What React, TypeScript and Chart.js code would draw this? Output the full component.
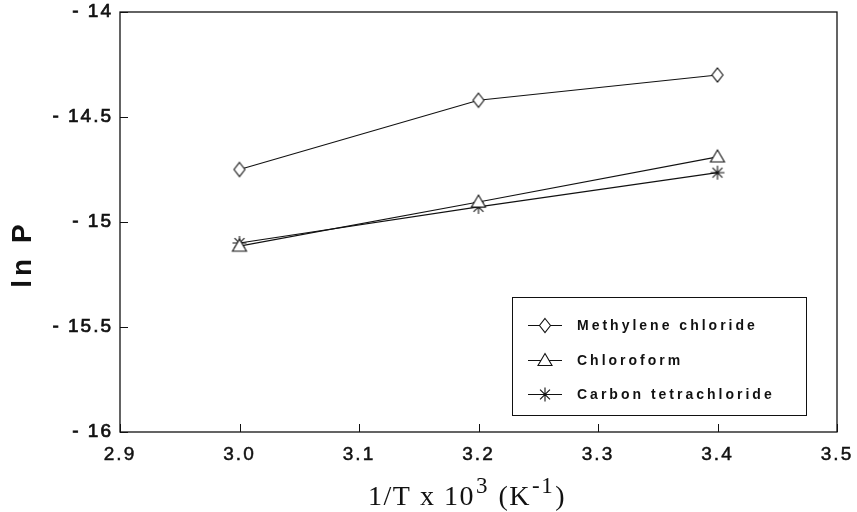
import React, { useEffect, useRef } from "react";
import { Chart, registerables } from "chart.js";

Chart.register(...registerables);

// Vapour pressure vs reciprocal temperature
const invTemp = [3.0, 3.2, 3.4];
const methyleneChloride = [-14.75, -14.42, -14.3];
const chloroform = [-15.115, -14.905, -14.69];
const carbonTetrachloride = [-15.1, -14.928, -14.765];

const seriesNames = ["Methylene chloride", "Chloroform", "Carbon tetrachloride"];
const seriesMarkers = ["diamond", "triangle", "asterisk"];

const xTicks = [2.9, 3.0, 3.1, 3.2, 3.3, 3.4, 3.5];
const yTicks = [-16, -15.5, -15, -14.5, -14];

const INK = "#111111";
const SANS = "'Liberation Sans', Arial, sans-serif";
const SERIF = "'Liberation Serif', 'Times New Roman', serif";

function drawMarker(ctx: CanvasRenderingContext2D, style: string, x: number, y: number) {
  ctx.save();
  ctx.strokeStyle = INK;
  ctx.fillStyle = "#ffffff";
  ctx.lineWidth = 1.1;
  ctx.beginPath();
  if (style === "diamond") {
    ctx.moveTo(x, y - 7);
    ctx.lineTo(x + 5.5, y);
    ctx.lineTo(x, y + 7);
    ctx.lineTo(x - 5.5, y);
    ctx.closePath();
    ctx.fill();
    ctx.stroke();
  } else if (style === "triangle") {
    ctx.moveTo(x, y - 7);
    ctx.lineTo(x + 7, y + 5);
    ctx.lineTo(x - 7, y + 5);
    ctx.closePath();
    ctx.fill();
    ctx.stroke();
  } else {
    const r = 7;
    for (let k = 0; k < 4; k++) {
      const ang = (k * Math.PI) / 4;
      ctx.moveTo(x - r * Math.sin(ang), y - r * Math.cos(ang));
      ctx.lineTo(x + r * Math.sin(ang), y + r * Math.cos(ang));
    }
    ctx.stroke();
  }
  ctx.restore();
}

function markerImage(style: string): HTMLCanvasElement {
  const c = document.createElement("canvas");
  c.width = 20;
  c.height = 20;
  const g = c.getContext("2d")!;
  drawMarker(g, style, 10, 10);
  return c;
}

const framePlugin = {
  id: "frame",
  beforeDraw(chart: any) {
    // spaced-out lettering for the tick labels
    (chart.ctx as any).letterSpacing = "2px";
  },
  beforeDatasetsDraw(chart: any) {
    (chart.ctx as any).letterSpacing = "0px";
  },
  afterDraw(chart: any) {
    const { ctx, chartArea: a, scales } = chart;
    ctx.save();
    ctx.strokeStyle = INK;
    ctx.lineWidth = 1.3;
    ctx.strokeRect(a.left, a.top, a.right - a.left, a.bottom - a.top);

    // inward tick marks
    ctx.lineWidth = 1;
    ctx.beginPath();
    xTicks.forEach((v) => {
      const px = Math.round(scales.x.getPixelForValue(v)) + 0.5;
      ctx.moveTo(px, a.bottom);
      ctx.lineTo(px, a.bottom - 8);
    });
    yTicks.forEach((v) => {
      const py = Math.round(scales.y.getPixelForValue(v)) + 0.5;
      ctx.moveTo(a.left, py);
      ctx.lineTo(a.left + 8, py);
    });
    ctx.stroke();

    // legend box
    const lx = 512, ly = 297, lw = 294, lh = 118;
    ctx.strokeRect(lx + 0.5, ly + 0.5, lw, lh);
    const rows = [325, 360, 394];
    ctx.font = `bold 14px ${SANS}`;
    (ctx as any).letterSpacing = "3px";
    ctx.textBaseline = "middle";
    ctx.textAlign = "left";
    rows.forEach((ry, i) => {
      ctx.strokeStyle = INK;
      ctx.lineWidth = 1;
      ctx.beginPath();
      ctx.moveTo(528, ry + 0.5);
      ctx.lineTo(562, ry + 0.5);
      ctx.stroke();
      drawMarker(ctx, seriesMarkers[i], 545, ry + 0.5);
      ctx.fillStyle = INK;
      ctx.fillText(seriesNames[i], 577, ry + 1);
    });

    // y title
    ctx.save();
    ctx.translate(23, 256);
    ctx.rotate(-Math.PI / 2);
    ctx.font = `bold 28px ${SANS}`;
    (ctx as any).letterSpacing = "4px";
    ctx.textAlign = "center";
    ctx.textBaseline = "middle";
    ctx.fillStyle = INK;
    ctx.fillText("ln P", 2, 0);
    ctx.restore();

    // x title with superscripts
    const parts: [string, boolean][] = [
      ["1/T x 10", false],
      ["3", true],
      [" (K", false],
      ["-1", true],
      [")", false],
    ];
    const mainFont = `28px ${SERIF}`;
    const supFont = `23px ${SERIF}`;
    (ctx as any).letterSpacing = "1.5px";
    ctx.textAlign = "left";
    ctx.textBaseline = "alphabetic";
    ctx.fillStyle = INK;
    let total = 0;
    parts.forEach(([t, sup]) => {
      ctx.font = sup ? supFont : mainFont;
      total += ctx.measureText(t).width + (sup ? 2 : 0);
    });
    let cx = 467 - total / 2;
    const base = 505;
    parts.forEach(([t, sup]) => {
      ctx.font = sup ? supFont : mainFont;
      ctx.fillText(t, cx + (sup ? 1 : 0), sup ? base - 12 : base);
      cx += ctx.measureText(t).width + (sup ? 2 : 0);
    });
    (ctx as any).letterSpacing = "0px";
    ctx.restore();
  },
};

export default function App() {
  const ref = useRef<HTMLCanvasElement | null>(null);

  useEffect(() => {
    if (!ref.current) return;
    const mk = (vals: number[]) => invTemp.map((x, i) => ({ x, y: vals[i] }));
    const series = [methyleneChloride, chloroform, carbonTetrachloride];
    const chart = new Chart(ref.current, {
      type: "line",
      data: {
        datasets: series.map((vals, i) => ({
          label: seriesNames[i],
          data: mk(vals),
          borderColor: INK,
          borderWidth: 1.1,
          pointStyle: markerImage(seriesMarkers[i]) as any,
          pointRadius: 7,
          tension: 0,
          fill: false,
        })),
      },
      options: {
        responsive: false,
        animation: false,
        layout: { padding: { top: 12, right: 20, left: 0, bottom: 0 } },
        plugins: { legend: { display: false }, tooltip: { enabled: false } },
        scales: {
          x: {
            type: "linear",
            min: 2.9,
            max: 3.5,
            grid: { display: false, drawTicks: false },
            border: { display: false },
            afterFit: (s: any) => {
              s.height = 80;
              s.paddingLeft = 0;
              s.paddingRight = 0;
            },
            afterBuildTicks: (s: any) => {
              s.ticks = xTicks.map((v) => ({ value: v }));
            },
            ticks: {
              padding: 11,
              color: INK,
              textStrokeColor: INK,
              textStrokeWidth: 0.5,
              font: { family: SANS, size: 19 },
              callback: (v: any) => Number(v).toFixed(1),
            },
          },
          y: {
            type: "linear",
            min: -16,
            max: -14,
            grid: { display: false, drawTicks: false },
            border: { display: false },
            afterFit: (s: any) => {
              s.width = 120;
              s.paddingTop = 0;
              s.paddingBottom = 0;
            },
            afterBuildTicks: (s: any) => {
              s.ticks = yTicks.map((v) => ({ value: v }));
            },
            ticks: {
              padding: 7,
              color: INK,
              textStrokeColor: INK,
              textStrokeWidth: 0.7,
              font: { family: SANS, size: 19 },
              callback: (v: any) => "- " + String(Math.abs(Number(v))),
            },
          },
        },
      },
      plugins: [framePlugin],
    });
    return () => chart.destroy();
  }, []);

  return (
    <div style={{ position: "fixed", left: 0, top: 0, width: 857, height: 512, background: "#fff" }}>
      <canvas ref={ref} width={857} height={512} />
    </div>
  );
}
